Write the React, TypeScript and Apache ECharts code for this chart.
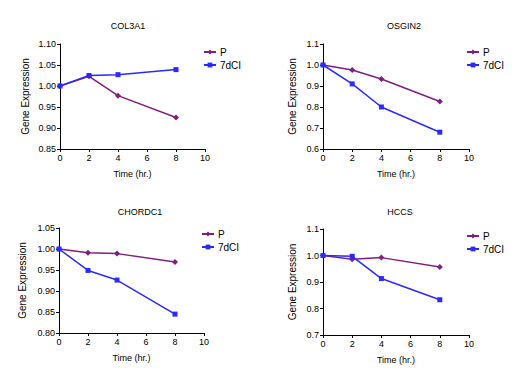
import React, { useEffect, useRef } from "react";
import * as echarts from "echarts";

const timePoints = [0, 2, 4, 8];
const seriesNames = ["P", "7dCI"];
const titles = ["COL3A1", "OSGIN2", "CHORDC1", "HCCS"];

const col3a1P = [1.0, 1.023, 0.977, 0.925];
const col3a1D = [1.0, 1.025, 1.027, 1.039];
const osgin2P = [1.0, 0.976, 0.933, 0.826];
const osgin2D = [1.0, 0.91, 0.8, 0.68];
const chordc1P = [1.0, 0.991, 0.989, 0.969];
const chordc1D = [1.0, 0.949, 0.926, 0.845];
const hccsP = [1.0, 0.986, 0.992, 0.957];
const hccsD = [1.0, 0.997, 0.913, 0.833];

const yMins = [0.85, 0.6, 0.8, 0.7];
const yMaxs = [1.1, 1.1, 1.05, 1.1];
const yIntervals = [0.05, 0.1, 0.05, 0.1];
const yDecimals = [2, 1, 2, 1];

const pValues = [col3a1P, osgin2P, chordc1P, hccsP];
const dValues = [col3a1D, osgin2D, chordc1D, hccsD];

const P_COLOR = "#7f1f7f";
const D_COLOR = "#2a2aff";
const FONT = "Liberation Sans, Arial, sans-serif";

const grids = [
  { left: 60, top: 44, width: 145, height: 105 },
  { left: 323, top: 44, width: 146, height: 105 },
  { left: 59, top: 228, width: 145, height: 105 },
  { left: 323, top: 229, width: 146, height: 106 },
];
const titlePos = [
  { x: 128, y: 21 },
  { x: 404, y: 21 },
  { x: 140, y: 207 },
  { x: 400, y: 207 },
];
const legendPos = [
  { left: 203, top: 47 },
  { left: 466, top: 47 },
  { left: 201, top: 229 },
  { left: 466, top: 231 },
];
const yNameGaps = [30, 26, 32, 26];

export default function App() {
  const ref = useRef<HTMLDivElement>(null);
  useEffect(() => {
    if (!ref.current) return;
    const chart = echarts.init(ref.current, null, { renderer: "svg" });
    const xAxis: any[] = [];
    const yAxis: any[] = [];
    const series: any[] = [];
    const title: any[] = [];
    const legend: any[] = [];
    for (let i = 0; i < 4; i++) {
      xAxis.push({
        type: "value",
        gridIndex: i,
        min: 0,
        max: 10,
        interval: 2,
        name: "Time (hr.)",
        nameLocation: "middle",
        nameGap: 20,
        nameTextStyle: { color: "#000", fontSize: 9, fontFamily: FONT },
        axisLine: { show: true, onZero: false, lineStyle: { color: "#000", width: 1 } },
        axisTick: { show: true, length: 3, lineStyle: { color: "#000" } },
        axisLabel: { color: "#000", fontSize: 9, margin: 4, fontFamily: FONT },
        splitLine: { show: false },
      });
      const dec = yDecimals[i];
      yAxis.push({
        type: "value",
        gridIndex: i,
        min: yMins[i],
        max: yMaxs[i],
        interval: yIntervals[i],
        name: "Gene Expression",
        nameLocation: "middle",
        nameGap: yNameGaps[i],
        nameTextStyle: { color: "#000", fontSize: 10, fontFamily: FONT },
        axisLine: { show: true, onZero: false, lineStyle: { color: "#000", width: 1 } },
        axisTick: { show: true, length: 3, lineStyle: { color: "#000" } },
        axisLabel: {
          color: "#000",
          fontSize: 9,
          margin: 4,
          fontFamily: FONT,
          formatter: (v: number) => v.toFixed(dec),
        },
        splitLine: { show: false },
      });
      series.push({
        name: seriesNames[0],
        type: "line",
        xAxisIndex: i,
        yAxisIndex: i,
        data: timePoints.map((t, k) => [t, pValues[i][k]]),
        symbol: "diamond",
        symbolSize: 6,
        itemStyle: { color: P_COLOR },
        lineStyle: { color: P_COLOR, width: 1.5 },
      });
      series.push({
        name: seriesNames[1],
        type: "line",
        xAxisIndex: i,
        yAxisIndex: i,
        data: timePoints.map((t, k) => [t, dValues[i][k]]),
        symbol: "rect",
        symbolSize: 5,
        itemStyle: { color: D_COLOR },
        lineStyle: { color: D_COLOR, width: 1.5 },
      });
      title.push({
        text: titles[i],
        left: titlePos[i].x,
        top: titlePos[i].y,
        textAlign: "center",
        padding: 0,
        textStyle: { fontSize: 9, fontWeight: "normal", color: "#000", fontFamily: FONT },
      });
      legend.push({
        data: seriesNames,
        orient: "vertical",
        left: legendPos[i].left,
        top: legendPos[i].top,
        padding: 0,
        itemWidth: 12,
        itemHeight: 6,
        itemGap: 3,
        textStyle: { fontSize: 10, color: "#000", fontFamily: FONT, padding: [0, 0, 0, -1] },
      });
    }
    chart.setOption({
      animation: false,
      backgroundColor: "#fff",
      title,
      legend,
      grid: grids.map((g) => ({ ...g, containLabel: false })),
      xAxis,
      yAxis,
      series,
    });
    return () => chart.dispose();
  }, []);
  return <div ref={ref} style={{ width: 527, height: 380, position: "absolute", left: 0, top: 0 }} />;
}
